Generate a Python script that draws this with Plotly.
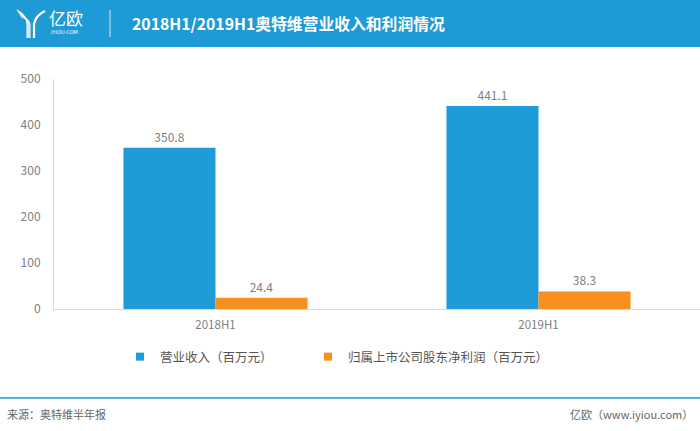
import plotly.graph_objects as go

categories = ["2018H1", "2019H1"]
revenue = [350.8, 441.1]
net_profit = [24.4, 38.3]
series_names = ["营业收入（百万元）", "归属上市公司股东净利润（百万元）"]
y_ticks = [0, 100, 200, 300, 400, 500]

W, H = 700, 431
ML, MR, MT, MB = 54, 0, 79, 122
PW = W - ML - MR
PH = H - MT - MB

def px(x):
    return (x - ML) / PW

def py(y):
    return (H - MB - y) / PH

FONT = "Noto Sans CJK SC, Open Sans, sans-serif"
BLUE = "#1f9bd7"
ORANGE = "#f7901e"
GRAY = "#7f7f7f"

fig = go.Figure()
for vals, name, color in ((revenue, series_names[0], BLUE), (net_profit, series_names[1], ORANGE)):
    fig.add_trace(go.Bar(
        x=categories, y=vals, name=name, showlegend=False,
        marker=dict(color=color, line=dict(width=0)),
        text=[f"{v:.1f}" for v in vals], textposition="outside",
        textfont=dict(color=GRAY, size=12, family=FONT), cliponaxis=False,
    ))
# legend entries with small square symbols (one legend box per series)
for name, color, lg in ((series_names[0], BLUE, "legend"), (series_names[1], ORANGE, "legend2")):
    fig.add_trace(go.Scatter(
        x=[None], y=[None], mode="markers", name=name, legend=lg,
        marker=dict(symbol="square", size=8, color=color),
    ))

shapes = []
annotations = []
# header band
shapes.append(dict(type="rect", xref="paper", yref="paper",
                   x0=px(0), x1=px(W), y0=py(47), y1=py(0),
                   fillcolor="#1e9ad6", line=dict(width=0), layer="below"))
# separator
shapes.append(dict(type="line", xref="paper", yref="paper",
                   x0=px(110), x1=px(110), y0=py(10), y1=py(37),
                   line=dict(color="rgba(255,255,255,0.8)", width=1)))
# logo icon (stylised Y made of parallel strokes)
for i in range(4):
    d = i * 2.2
    shapes.append(dict(type="path", xref="paper", yref="paper",
                       path=(f"M {px(17+d*0.6)},{py(10+d)} Q {px(27+d*0.3)},{py(16+d*0.5)} "
                             f"{px(27+d*0.45)},{py(24)} L {px(27+d*0.45)},{py(38)}"),
                       line=dict(color="white", width=1.1)))
shapes.append(dict(type="path", xref="paper", yref="paper",
                   path=f"M {px(45)},{py(11)} Q {px(36)},{py(15)} {px(34)},{py(24)} L {px(34)},{py(38)}",
                   line=dict(color="white", width=2.2)))
annotations.append(dict(text="亿欧", xref="paper", yref="paper", x=px(47), y=py(17),
                        xanchor="left", yanchor="middle", showarrow=False,
                        font=dict(color="white", size=17, family=FONT)))
annotations.append(dict(text="IYIOU·COM", xref="paper", yref="paper", x=px(49), y=py(32),
                        xanchor="left", yanchor="middle", showarrow=False,
                        font=dict(color="white", size=5, family="DejaVu Sans")))
annotations.append(dict(text="<b>2018H1/2019H1奥特维营业收入和利润情况</b>", xref="paper", yref="paper",
                        x=px(130), y=py(23), xanchor="left", yanchor="middle", showarrow=False,
                        font=dict(color="white", size=15.8, family=FONT)))
# footer line
shapes.append(dict(type="line", xref="paper", yref="paper",
                   x0=px(0), x1=px(W), y0=py(398), y1=py(398),
                   line=dict(color="#5bb3e0", width=2)))
annotations.append(dict(text="来源：奥特维半年报", xref="paper", yref="paper", x=px(5), y=py(414),
                        xanchor="left", yanchor="middle", showarrow=False,
                        font=dict(color="#666666", size=11, family=FONT)))
annotations.append(dict(text="亿欧（www.iyiou.com）", xref="paper", yref="paper", x=px(695), y=py(414),
                        xanchor="right", yanchor="middle", showarrow=False,
                        font=dict(color="#666666", size=11, family=FONT)))

legend_common = dict(orientation="h", yanchor="top", xanchor="left", y=py(342),
                     font=dict(size=12.5, color="#555555", family=FONT),
                     itemwidth=30, bgcolor="rgba(0,0,0,0)")

fig.update_layout(
    width=W, height=H,
    margin=dict(l=ML, r=MR, t=MT, b=MB, pad=0),
    paper_bgcolor="white", plot_bgcolor="white",
    barmode="group", bargap=0.43, bargroupgap=0,
    font=dict(family=FONT, color=GRAY, size=12),
    showlegend=True,
    legend=dict(x=px(120), **legend_common),
    legend2=dict(x=px(308), **legend_common),
    xaxis=dict(type="category", showline=True, linecolor="#d9d9d9", linewidth=1,
               ticks="", tickfont=dict(size=11.5, color=GRAY), showgrid=False,
               ticklabelstandoff=5, fixedrange=True),
    yaxis=dict(range=[0, 500], tickvals=y_ticks, showline=True, linecolor="#d9d9d9",
               linewidth=1, showgrid=False, zeroline=False, ticks="",
               ticklabelstandoff=10,
               tickfont=dict(size=12, color=GRAY), fixedrange=True),
    shapes=shapes, annotations=annotations,
)

fig.write_html("out.html", config={"displayModeBar": False},
               post_script="document.body.style.margin='0';document.body.style.overflow='hidden';")
